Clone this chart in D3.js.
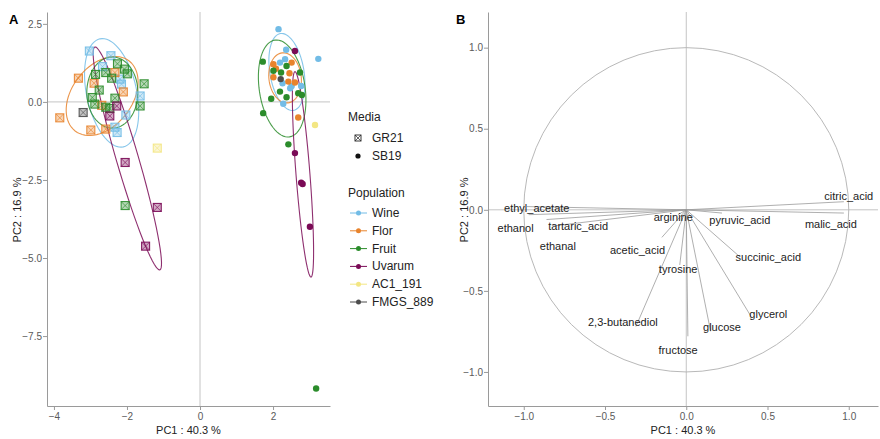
<!DOCTYPE html>
<html>
<head>
<meta charset="utf-8">
<script src="https://cdn.jsdelivr.net/npm/d3@7"></script>
<style>
  body { margin: 0; background: #fff; }
  svg text { font-family: "Liberation Sans", Arial, sans-serif; }
</style>
</head>
<body>
<div id="chart"></div>
<script>
// ---- data ----
const populations = ["Wine", "Flor", "Fruit", "Uvarum", "AC1_191", "FMGS_889"];
const popColors = ["#72BCE6", "#E8832C", "#2B8C2B", "#7A0A56", "#F3E683", "#4D4D4D"];
const mediaNames = ["GR21", "SB19"];

// GR21 individuals: [PC1, PC2, population]
const gr21Points = [
  [-3.03, 1.63, "Wine"], [-2.44, 1.48, "Wine"], [-2.67, 1.13, "Wine"], [-2.19, 0.73, "Wine"],
  [-2.15, 0.57, "Wine"], [-1.64, 0.19, "Wine"], [-2.03, -0.42, "Wine"], [-2.33, -0.81, "Wine"],
  [-2.27, -0.98, "Wine"],
  [-3.33, 0.76, "Flor"], [-2.33, 0.94, "Flor"], [-2.90, 0.60, "Flor"], [-2.10, 0.32, "Flor"],
  [-2.69, -0.11, "Flor"], [-3.84, -0.51, "Flor"], [-2.99, -0.90, "Flor"], [-2.58, -0.87, "Flor"],
  [-2.26, 1.22, "Fruit"], [-2.07, 1.05, "Fruit"], [-1.99, 0.90, "Fruit"], [-2.86, 0.88, "Fruit"],
  [-2.58, 0.94, "Fruit"], [-2.42, 0.76, "Fruit"], [-1.53, 0.58, "Fruit"], [-2.76, 0.38, "Fruit"],
  [-2.95, 0.14, "Fruit"], [-2.33, 0.12, "Fruit"], [-2.88, -0.07, "Fruit"], [-2.58, -0.17, "Fruit"],
  [-2.47, -0.21, "Fruit"], [-1.64, -0.13, "Fruit"], [-2.05, -3.32, "Fruit"],
  [-2.28, -0.13, "Uvarum"], [-2.47, -0.45, "Uvarum"], [-2.05, -1.94, "Uvarum"],
  [-1.17, -3.38, "Uvarum"], [-1.49, -4.62, "Uvarum"],
  [-1.17, -1.48, "AC1_191"],
  [-3.20, -0.34, "FMGS_889"]
];

// SB19 individuals: [PC1, PC2, population]
const sb19Points = [
  [2.15, 2.33, "Wine"], [3.24, 1.38, "Wine"], [2.36, 1.67, "Wine"], [2.19, 1.26, "Wine"],
  [2.33, 1.37, "Wine"], [2.26, 0.60, "Wine"], [2.51, 0.51, "Wine"], [2.77, 0.51, "Wine"],
  [2.47, 0.44, "Wine"], [2.28, -0.06, "Wine"],
  [2.01, 1.21, "Flor"], [2.51, 1.26, "Flor"], [2.08, 1.06, "Flor"], [2.01, 0.79, "Flor"],
  [2.45, 0.92, "Flor"], [2.42, 0.65, "Flor"], [2.60, 0.62, "Flor"], [2.69, -0.50, "Flor"],
  [1.72, 1.29, "Fruit"], [2.37, 1.15, "Fruit"], [2.01, 1.00, "Fruit"], [2.22, 0.94, "Fruit"],
  [2.74, 0.94, "Fruit"], [2.19, 0.33, "Fruit"], [2.69, 0.28, "Fruit"], [2.79, 0.22, "Fruit"],
  [2.37, 0.15, "Fruit"], [1.95, 0.10, "Fruit"], [1.73, -0.36, "Fruit"], [2.42, -1.36, "Fruit"],
  [3.18, -9.18, "Fruit"],
  [2.60, 1.63, "Uvarum"], [2.60, -1.64, "Uvarum"], [2.77, -2.59, "Uvarum"],
  [2.81, -2.63, "Uvarum"], [3.01, -4.00, "Uvarum"],
  [3.15, -0.74, "AC1_191"],
  [2.21, 0.73, "FMGS_889"]
];

// confidence ellipses: centre and two conjugate half-axes, PC units
const ellipsesA = [
  { pop: "Wine",   cx: -2.42, cy: 0.29,  ux: 0.32, uy: -1.73, vx: -0.67, vy: -0.17 },
  { pop: "Flor",   cx: -2.68, cy: 0.19,  ux: 0.74, uy: 1.12,  vx: 0.65,  vy: -0.59 },
  { pop: "Fruit",  cx: -2.40, cy: 0.30,  ux: 0.00, uy: 1.14,  vx: 0.70,  vy: 0.00 },
  { pop: "Uvarum", cx: -1.99, cy: -1.81, ux: 0.89, uy: -3.57, vx: -0.29, vy: -0.10 },
  { pop: "Wine",   cx: 2.38,  cy: 0.96,  ux: 0.18, uy: -1.23, vx: -0.46, vy: -0.09 },
  { pop: "Fruit",  cx: 2.25,  cy: 0.43,  ux: 0.20, uy: -1.55, vx: -0.62, vy: -0.11 },
  { pop: "Flor",   cx: 2.33,  cy: 0.77,  ux: 0.08, uy: -0.80, vx: -0.44, vy: -0.06 },
  { pop: "Uvarum", cx: 2.82,  cy: -2.32, ux: 0.22, uy: -3.29, vx: -0.19, vy: -0.02 }
];

// variable loadings (panel B)
const varNames = ["citric_acid", "malic_acid", "ethyl_acetate", "ethanol", "tartaric_acid", "ethanal",
  "arginine", "pyruvic_acid", "acetic_acid", "succinic_acid", "tyrosine", "2,3-butanediol",
  "glucose", "glycerol", "fructose"];
const varPC1 = [0.97, 0.97, -0.98, -0.97, -0.86, -0.82, -0.05, 0.22, -0.15, 0.33, -0.04, -0.31, 0.15, 0.40, 0.01];
const varPC2 = [0.05, -0.02, 0.02, -0.03, -0.06, -0.10, -0.03, -0.02, -0.17, -0.29, -0.34, -0.72, -0.75, -0.66, -0.78];
// repelled label anchors, PC units
const labelPC1 = [1.00, 0.89, -0.92, -1.05, -0.665, -0.79, -0.08, 0.33, -0.30, 0.505, -0.05, -0.39, 0.22, 0.505, -0.05];
const labelPC2 = [0.086, -0.086, 0.012, -0.111, -0.099, -0.222, -0.043, -0.062, -0.247, -0.29, -0.364, -0.691, -0.722, -0.642, -0.864];

const ticksA_x = [-4, -2, 0, 2];
const ticksA_y = [2.5, 0, -2.5, -5, -7.5];
const ticksB = [-1, -0.5, 0, 0.5, 1];

// ---- drawing ----
const width = 880, height = 439;
const axisCol = "#9a9a9a", tickText = "#5a5a5a";
const color = d3.scaleOrdinal().domain(populations).range(popColors);

const svg = d3.select("#chart").append("svg")
  .attr("width", width).attr("height", height);

function drawAxes(x, y, xt, yt, fmtX, fmtY) {
  const [x0, x1] = x.range(), [y0, y1] = y.range();
  const g = svg.append("g");
  // reference lines
  g.append("line").attr("x1", x(0)).attr("x2", x(0)).attr("y1", y1).attr("y2", y0)
    .attr("stroke", "#b5b5b5").attr("stroke-width", 0.8);
  g.append("line").attr("x1", x0).attr("x2", x1).attr("y1", y(0)).attr("y2", y(0))
    .attr("stroke", "#b5b5b5").attr("stroke-width", 0.8);

  const ax = g.append("g").attr("transform", `translate(0,${y0})`)
    .call(d3.axisBottom(x).tickValues(xt).tickFormat(fmtX).tickSize(4).tickSizeOuter(0));
  const ay = g.append("g").attr("transform", `translate(${x0},0)`)
    .call(d3.axisLeft(y).tickValues(yt).tickFormat(fmtY).tickSize(4).tickSizeOuter(0));
  [ax, ay].forEach(a => {
    a.select(".domain").attr("stroke", axisCol);
    a.selectAll(".tick line").attr("stroke", axisCol);
    a.selectAll("text").attr("fill", tickText).style("font-size", "10px")
      .style("font-family", "Liberation Sans, Arial, sans-serif");
  });
  ay.selectAll("text").attr("x", -5);
  ax.selectAll("text").attr("y", 7);

  g.append("text").attr("x", (x0 + x1) / 2).attr("y", 434)
    .attr("text-anchor", "middle").style("font-size", "11px").attr("fill", "#222")
    .text("PC1 : 40.3 %");
}

// ---------- panel A ----------
const xA = d3.scaleLinear().domain([-4.19, 3.56]).range([47, 330]);
const yA = d3.scaleLinear().domain([-9.74, 2.88]).range([406, 12]);
drawAxes(xA, yA, ticksA_x, ticksA_y, d3.format("d"), d3.format(".1f"));

svg.append("text").attr("transform", "translate(21,210) rotate(-90)")
  .attr("text-anchor", "middle").style("font-size", "11px").attr("fill", "#222")
  .text("PC2 : 16.9 %");
svg.append("text").attr("x", 9).attr("y", 24).style("font-size", "13px")
  .style("font-weight", "bold").text("A");

// ellipses
const ellLine = d3.line().curve(d3.curveLinearClosed);
svg.append("g").selectAll("path").data(ellipsesA).enter().append("path")
  .attr("d", e => ellLine(d3.range(0, 72).map(i => {
    const t = i / 72 * 2 * Math.PI;
    return [xA(e.cx + e.ux * Math.cos(t) + e.vx * Math.sin(t)),
            yA(e.cy + e.uy * Math.cos(t) + e.vy * Math.sin(t))];
  })))
  .attr("fill", "none").attr("stroke", e => color(e.pop)).attr("stroke-width", 1.1)
  .attr("stroke-opacity", 0.85);

// GR21: square with cross
const sq = 4;
const gr = svg.append("g").selectAll("g").data(gr21Points).enter().append("g")
  .attr("transform", d => `translate(${xA(d[0])},${yA(d[1])})`);
gr.append("rect").attr("x", -sq).attr("y", -sq).attr("width", 2 * sq).attr("height", 2 * sq)
  .attr("fill", d => color(d[2])).attr("fill-opacity", 0.35)
  .attr("stroke", d => color(d[2])).attr("stroke-width", 1.1).attr("stroke-opacity", 0.9);
gr.append("path").attr("d", `M${-sq},${-sq}L${sq},${sq}M${-sq},${sq}L${sq},${-sq}`)
  .attr("stroke", d => color(d[2])).attr("stroke-width", 0.8).attr("stroke-opacity", 0.8);

// SB19: filled circles
svg.append("g").selectAll("circle").data(sb19Points).enter().append("circle")
  .attr("cx", d => xA(d[0])).attr("cy", d => yA(d[1])).attr("r", 3.2)
  .attr("fill", d => color(d[2]));

// legend
const leg = svg.append("g").style("font-size", "12px").attr("fill", "#222");
leg.append("text").attr("x", 348).attr("y", 121).text("Media");
mediaNames.forEach((m, i) => {
  const cy = 138 + i * 18;
  if (i === 0) {
    leg.append("rect").attr("x", 355).attr("y", cy - 3).attr("width", 6).attr("height", 6)
      .attr("fill", "none").attr("stroke", "#222").attr("stroke-width", 0.9);
    leg.append("path").attr("d", `M355,${cy - 3}L361,${cy + 3}M355,${cy + 3}L361,${cy - 3}`)
      .attr("stroke", "#222").attr("stroke-width", 0.7);
  } else {
    leg.append("circle").attr("cx", 358).attr("cy", cy).attr("r", 2.6).attr("fill", "#111");
  }
  leg.append("text").attr("x", 372).attr("y", cy + 4).text(m);
});
leg.append("text").attr("x", 348).attr("y", 197).text("Population");
populations.forEach((p, i) => {
  const cy = 213 + i * 17.8;
  leg.append("line").attr("x1", 350).attr("x2", 367).attr("y1", cy).attr("y2", cy)
    .attr("stroke", color(p)).attr("stroke-width", 1);
  leg.append("circle").attr("cx", 358.5).attr("cy", cy).attr("r", 2.5).attr("fill", color(p));
  leg.append("text").attr("x", 372).attr("y", cy + 4).text(p);
});

// ---------- panel B ----------
const xB = d3.scaleLinear().domain([-1.22, 1.18]).range([488, 878]);
const yB = d3.scaleLinear().domain([-1.21, 1.22]).range([406, 12]);
drawAxes(xB, yB, ticksB, ticksB, d3.format(".1f"), d3.format(".1f"));

svg.append("text").attr("transform", "translate(468,210) rotate(-90)")
  .attr("text-anchor", "middle").style("font-size", "11px").attr("fill", "#222")
  .text("PC2 : 16.9 %");
svg.append("text").attr("x", 456).attr("y", 24).style("font-size", "13px")
  .style("font-weight", "bold").text("B");

// correlation circle
svg.append("ellipse").attr("cx", xB(0)).attr("cy", yB(0))
  .attr("rx", xB(1) - xB(0)).attr("ry", yB(0) - yB(1))
  .attr("fill", "none").attr("stroke", "#b0b0b0").attr("stroke-width", 0.9);

const vars = varNames.map((n, i) => ({ name: n, x: varPC1[i], y: varPC2[i], lx: labelPC1[i], ly: labelPC2[i] }));
svg.append("g").selectAll("line").data(vars).enter().append("line")
  .attr("x1", xB(0)).attr("y1", yB(0))
  .attr("x2", d => xB(d.x)).attr("y2", d => yB(d.y))
  .attr("stroke", "#9a9a9a").attr("stroke-width", 0.8);

svg.append("g").selectAll("text").data(vars).enter().append("text")
  .attr("x", d => xB(d.lx)).attr("y", d => yB(d.ly)).attr("dy", "0.35em")
  .attr("text-anchor", "middle").style("font-size", "11px").attr("fill", "#222")
  .text(d => d.name);
</script>
</body>
</html>
